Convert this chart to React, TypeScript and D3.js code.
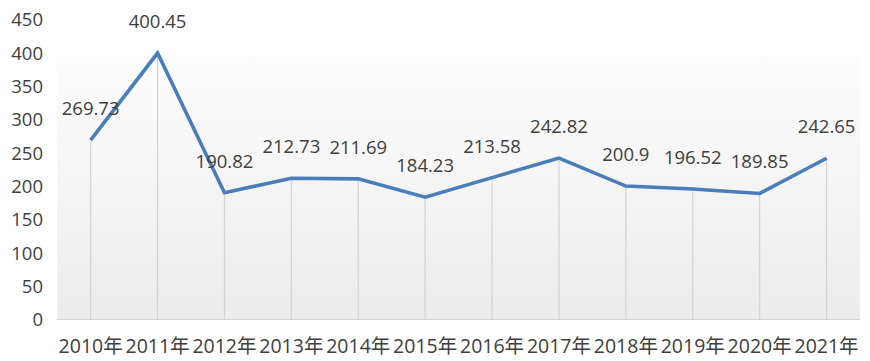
import React from "react";
import * as d3 from "d3";

const years = ["2010年","2011年","2012年","2013年","2014年","2015年","2016年","2017年","2018年","2019年","2020年","2021年"];
const values = [269.73, 400.45, 190.82, 212.73, 211.69, 184.23, 213.58, 242.82, 200.9, 196.52, 189.85, 242.65];
const valueLabels = ["269.73","400.45","190.82","212.73","211.69","184.23","213.58","242.82","200.9","196.52","189.85","242.65"];
const yTicks = [0, 50, 100, 150, 200, 250, 300, 350, 400, 450];

const W = 870, H = 361;
const left = 57.2, right = 860, top = 20, bottom = 320;
const font = "'Open Sans', 'Noto Sans CJK SC', sans-serif";
const textColor = "#404040";

export default function App() {
  const x = d3.scaleBand<string>().domain(years).range([left, right]).padding(0);
  const y = d3.scaleLinear().domain([0, 450]).range([bottom, top]);
  const cx = (i: number) => (x(years[i]) as number) + x.bandwidth() / 2;
  const line = d3.line<number>().x((_, i) => cx(i)).y((d) => y(d));

  return (
    <svg width={W} height={H} style={{ position: "absolute", left: 0, top: 0, background: "#fff" }}>
      <defs>
        <linearGradient id="bg" x1="0" y1="0" x2="0" y2="1">
          <stop offset="0%" stopColor="#fdfdfd" />
          <stop offset="100%" stopColor="#ececec" />
        </linearGradient>
      </defs>
      <rect x={left} y={55} width={right - left} height={bottom - 1 - 55} fill="url(#bg)" />
      <line x1={left} x2={right} y1={bottom - 0.5} y2={bottom - 0.5} stroke="#d4d4d4" strokeWidth={1.2} />
      {values.map((v, i) => (
        <line key={"d" + i} x1={cx(i)} x2={cx(i)} y1={y(v)} y2={bottom - 1} stroke="#d4d4d4" strokeWidth={1.2} />
      ))}
      <path d={line(values) || ""} fill="none" stroke="#4a7ebb" strokeWidth={3.6} strokeLinejoin="miter" />
      {yTicks.map((t) => (
        <text key={"y" + t} x={43} y={y(t)} dy="0.35em" textAnchor="end" fontFamily={font} fontSize={18.5} fill={textColor}>
          {t}
        </text>
      ))}
      {years.map((yr, i) => (
        <text key={"x" + i} x={cx(i)} y={346} dy="0.35em" textAnchor="middle" fontFamily={font} fontSize={19.5} fill={textColor}>
          {yr}
        </text>
      ))}
      {values.map((v, i) => (
        <text key={"l" + i} x={cx(i)} y={y(v) - 31.5} dy="0.35em" textAnchor="middle" fontFamily={font} fontSize={18.5} fill={textColor}>
          {valueLabels[i]}
        </text>
      ))}
    </svg>
  );
}
